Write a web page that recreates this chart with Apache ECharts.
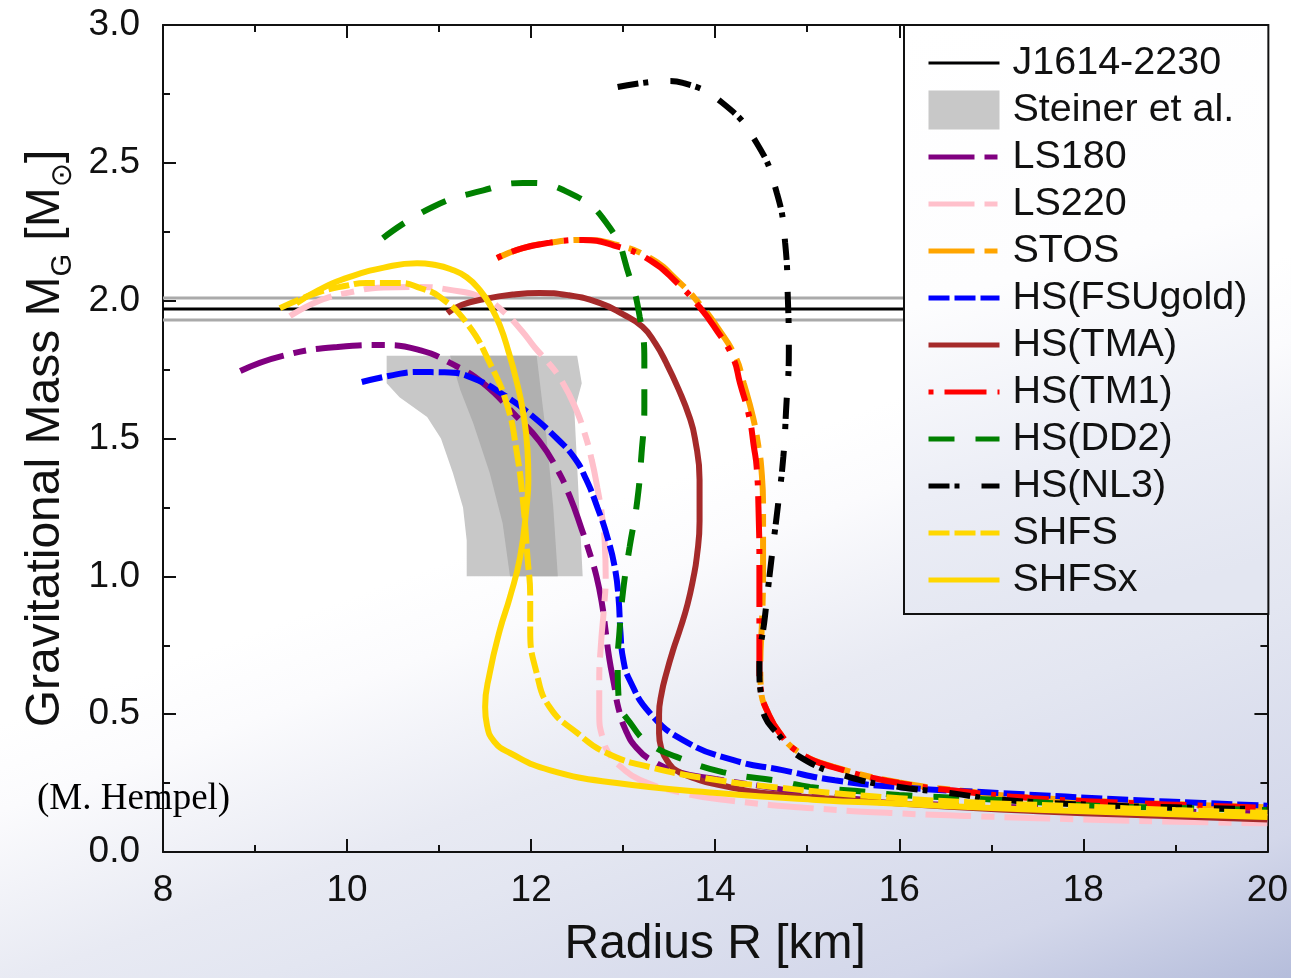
<!DOCTYPE html>
<html>
<head>
<meta charset="utf-8">
<title>Neutron star mass-radius relations</title>
<script src="https://cdn.jsdelivr.net/npm/echarts@6/dist/echarts.min.js"></script>
<style>
  html, body { margin: 0; padding: 0; }
  #chart {
    width: 1291px; height: 978px;
    background: linear-gradient(160deg, #ffffff 0%, #ffffff 50%, #fbfbfd 56%, #e8eaf3 68%, #e3e6f1 74%, #d3d7ea 90%, #b5bddb 100%);
  }
</style>
</head>
<body>
<div id="chart"></div>
<script>
// Mass-radius curves [R (km), M_G (M_sun)] for each equation of state.
const LS180 = [[8.84,1.745],[9.3,1.80],[9.9,1.832],[10.4,1.839],[10.8,1.82],[11.12,1.774],[11.48,1.70],[11.84,1.58],[12.09,1.49],[12.28,1.39],[12.42,1.29],[12.55,1.17],[12.64,1.08],[12.71,1.0],[12.77,0.9],[12.81,0.8],[12.85,0.7],[12.9,0.61],[12.95,0.52],[13.03,0.44],[13.14,0.38],[13.3,0.334],[13.6,0.29],[14.0,0.265],[14.7,0.228],[15.0,0.21],[16.0,0.18],[17.0,0.165],[18.0,0.155],[19.0,0.147],[20.0,0.14]];
const LS220 = [[9.38,1.944],[9.7,2.0],[10.03,2.03],[10.4,2.048],[10.76,2.05],[11.1,2.04],[11.48,2.01],[11.7,1.96],[11.9,1.89],[12.04,1.83],[12.2,1.77],[12.33,1.71],[12.47,1.62],[12.58,1.52],[12.66,1.42],[12.72,1.32],[12.77,1.22],[12.8,1.12],[12.81,1.0],[12.79,0.88],[12.76,0.76],[12.74,0.62],[12.74,0.5],[12.78,0.41],[12.86,0.35],[12.97,0.31],[13.18,0.262],[13.65,0.214],[14.2,0.185],[15.0,0.16],[16.0,0.14],[17.0,0.128],[18.0,0.118],[19.0,0.11],[20.0,0.104]];
const STOS = [[11.63,2.155],[11.9,2.19],[12.2,2.21],[12.56,2.22],[12.9,2.205],[13.29,2.155],[13.6,2.07],[13.85,1.98],[14.03,1.9],[14.22,1.796],[14.31,1.7],[14.41,1.578],[14.47,1.47],[14.5,1.397],[14.52,1.25],[14.52,1.03],[14.51,0.85],[14.49,0.67],[14.5,0.58],[14.56,0.515],[14.7,0.432],[14.92,0.36],[15.28,0.31],[16.0,0.252],[16.73,0.22],[17.45,0.197],[18.5,0.18],[19.3,0.17],[20.0,0.162]];
const HS_FSUGOLD = [[10.16,1.705],[10.5,1.73],[10.76,1.741],[11.06,1.74],[11.36,1.72],[11.74,1.65],[12.0,1.585],[12.28,1.50],[12.47,1.43],[12.6,1.35],[12.72,1.25],[12.83,1.14],[12.91,1.03],[12.95,0.92],[12.97,0.80],[13.0,0.70],[13.07,0.624],[13.29,0.504],[13.65,0.406],[14.19,0.334],[14.73,0.297],[15.3,0.26],[16.0,0.235],[17.09,0.214],[18.53,0.189],[19.3,0.178],[20.0,0.168]];
const HS_TMA = [[11.09,1.955],[11.25,1.985],[11.48,2.005],[11.8,2.022],[12.09,2.028],[12.4,2.02],[12.75,1.991],[13.0,1.95],[13.21,1.905],[13.35,1.845],[13.47,1.773],[13.6,1.68],[13.72,1.578],[13.78,1.5],[13.83,1.35],[13.83,1.2],[13.8,1.07],[13.76,0.99],[13.7,0.9],[13.62,0.81],[13.54,0.73],[13.47,0.649],[13.42,0.58],[13.39,0.5],[13.39,0.43],[13.42,0.37],[13.48,0.33],[13.58,0.295],[13.83,0.261],[14.02,0.245],[14.5,0.215],[15.46,0.189],[16.5,0.165],[17.5,0.148],[18.5,0.135],[20.0,0.118]];
const HS_TM1 = [[11.63,2.155],[11.9,2.19],[12.2,2.21],[12.56,2.22],[12.9,2.2],[13.29,2.147],[13.6,2.06],[13.83,1.977],[14.0,1.9],[14.19,1.796],[14.27,1.7],[14.37,1.578],[14.42,1.47],[14.45,1.397],[14.47,1.25],[14.48,1.03],[14.48,0.85],[14.48,0.67],[14.5,0.58],[14.56,0.515],[14.7,0.432],[14.92,0.359],[15.28,0.308],[16.0,0.25],[16.73,0.218],[17.45,0.195],[18.5,0.178],[19.3,0.168],[20.0,0.16]];
const HS_DD2 = [[10.39,2.227],[10.93,2.34],[11.48,2.40],[11.91,2.427],[12.42,2.39],[12.85,2.267],[13.07,2.086],[13.18,1.941],[13.23,1.785],[13.23,1.614],[13.2,1.447],[13.15,1.266],[13.07,1.106],[13.0,0.95],[12.96,0.8],[12.94,0.68],[12.95,0.56],[13.11,0.453],[13.3,0.39],[13.58,0.345],[14.08,0.29],[14.73,0.255],[15.03,0.236],[15.65,0.218],[16.0,0.207],[17.09,0.189],[18.18,0.167],[19.0,0.16],[20.0,0.152]];
const HS_NL3 = [[12.94,2.775],[13.29,2.793],[13.5,2.797],[13.65,2.79],[14.08,2.717],[14.45,2.572],[14.67,2.39],[14.76,2.209],[14.79,2.0],[14.8,1.821],[14.77,1.603],[14.74,1.433],[14.68,1.252],[14.61,1.059],[14.54,0.853],[14.48,0.671],[14.5,0.56],[14.54,0.49],[14.67,0.432],[14.92,0.345],[15.46,0.272],[16.0,0.236],[16.55,0.214],[17.09,0.19],[18.18,0.17],[19.0,0.162],[20.0,0.155]];
const SHFS = [[9.27,1.973],[9.67,2.028],[10.0,2.055],[10.21,2.064],[10.57,2.064],[10.8,2.045],[11.01,2.013],[11.3,1.919],[11.55,1.774],[11.74,1.62],[11.84,1.458],[11.91,1.277],[11.96,1.07],[11.99,0.925],[11.99,0.805],[12.06,0.649],[12.2,0.526],[12.5,0.432],[12.82,0.359],[13.29,0.308],[14.02,0.261],[14.73,0.232],[15.28,0.214],[16.0,0.195],[16.73,0.181],[18.0,0.165],[19.0,0.152],[20.0,0.142]];
const SHFSX = [[9.45,1.99],[9.7,2.04],[10.03,2.086],[10.4,2.12],[10.76,2.136],[10.95,2.13],[11.12,2.115],[11.3,2.085],[11.45,2.035],[11.56,1.98],[11.66,1.91],[11.75,1.82],[11.84,1.71],[11.91,1.6],[11.96,1.46],[11.97,1.35],[11.95,1.252],[11.88,1.07],[11.77,0.925],[11.66,0.805],[11.55,0.649],[11.5,0.526],[11.52,0.46],[11.6,0.4],[11.77,0.359],[12.2,0.297],[12.93,0.25],[14.02,0.214],[15.1,0.189],[16.0,0.175],[17.0,0.16],[18.0,0.148],[19.0,0.137],[20.0,0.127]];

// Observational constraints
const J1614_MASS = 1.97;
const J1614_ERR = 0.04;
const RADIUS_RANGE = [8, 20];
const STEINER_OUTER = [[10.43,1.80],[12.5,1.80],[12.55,1.70],[12.47,1.60],[12.5,1.4],[12.53,1.2],[12.56,1.0],[11.3,1.0],[11.3,1.13],[11.26,1.25],[11.15,1.375],[11.02,1.5],[10.87,1.578],[10.57,1.65],[10.43,1.70]];
const STEINER_INNER = [[11.12,1.80],[12.06,1.80],[12.17,1.495],[12.24,1.252],[12.29,1.0],[11.77,1.0],[11.69,1.193],[11.55,1.375],[11.37,1.556],[11.23,1.676]];

// Axis ticks
const X_TICKS = { min: 8, max: 20, step: 2 };
const Y_TICKS = { min: 0, max: 3, step: 0.5 };

const FONT = '"Liberation Sans", Arial, Helvetica, sans-serif';
const INK = '#111111';
const CURVE_WIDTH = 6;

const chart = echarts.init(document.getElementById('chart'), null, { renderer: 'canvas' });

function curve(name, data, color, dash) {
  return {
    name, type: 'line', data, symbol: 'none', smooth: 0.5,
    lineStyle: { color, width: CURVE_WIDTH, type: dash, cap: 'butt' },
    itemStyle: { color },
    emphasis: { disabled: true },
    clip: true, z: 3
  };
}

function hLine(name, mass, color, width) {
  return {
    name, type: 'line', symbol: 'none',
    data: [[RADIUS_RANGE[0], mass], [RADIUS_RANGE[1], mass]],
    lineStyle: { color, width }, itemStyle: { color },
    emphasis: { disabled: true }, z: 2
  };
}

const steinerBands = [STEINER_OUTER, STEINER_INNER];
const steinerFill = ['#c8c8c8', '#b0b0b0'];

const axisLineStyle = { color: INK, width: 2 };
function xAxisCfg(pos, labels) {
  return {
    type: 'value', position: pos, min: X_TICKS.min, max: X_TICKS.max, interval: X_TICKS.step,
    axisLine: { show: true, onZero: false, lineStyle: axisLineStyle },
    axisTick: { show: true, inside: true, length: 13, lineStyle: axisLineStyle },
    minorTick: { show: true, splitNumber: 2, length: 7, lineStyle: axisLineStyle },
    axisLabel: { show: labels, fontSize: 37, fontFamily: FONT, color: INK, margin: 20 },
    splitLine: { show: false }, minorSplitLine: { show: false }
  };
}
function yAxisCfg(pos, labels) {
  return {
    type: 'value', position: pos, min: Y_TICKS.min, max: Y_TICKS.max, interval: Y_TICKS.step,
    axisLine: { show: true, onZero: false, lineStyle: axisLineStyle },
    axisTick: { show: true, inside: true, length: 13, lineStyle: axisLineStyle },
    minorTick: { show: true, splitNumber: 2, length: 7, lineStyle: axisLineStyle },
    axisLabel: { show: labels, fontSize: 37, fontFamily: FONT, color: INK, margin: 23,
                 formatter: v => v.toFixed(1) },
    splitLine: { show: false }, minorSplitLine: { show: false }
  };
}

const xBottom = xAxisCfg('bottom', true);
Object.assign(xBottom, {
  name: 'Radius R [km]', nameLocation: 'middle', nameGap: 69,
  nameTextStyle: { fontSize: 48, fontFamily: FONT, color: INK }
});
const yLeft = yAxisCfg('left', true);
Object.assign(yLeft, {
  name: '{m|Gravitational Mass M}{s|G}{m| [M}{s|⊙}{m|]}',
  nameLocation: 'middle', nameGap: 93,
  nameTextStyle: {
    color: INK,
    rich: {
      m: { fontSize: 48, fontFamily: FONT, color: INK, lineHeight: 48 },
      s: { fontSize: 29, fontFamily: FONT + ', "DejaVu Sans"', color: INK, lineHeight: 29, padding: [34, 0, 0, 0] }
    }
  }
});

const option = {
  animation: false,
  backgroundColor: 'transparent',
  grid: { left: 163, right: 23, top: 25, bottom: 126, containLabel: false },
  xAxis: [xBottom, xAxisCfg('top', false)],
  yAxis: [yLeft, yAxisCfg('right', false)],
  legend: {
    orient: 'vertical', left: 904, top: 25,
    padding: [18, 21, 14, 22], itemGap: 7, itemWidth: 71, itemHeight: 39,
    borderColor: INK, borderWidth: 2,
    backgroundColor: {
      type: 'linear', x: 0, y: 0, x2: 0.45, y2: 1,
      colorStops: [{ offset: 0, color: '#ffffff' }, { offset: 0.45, color: '#fdfdfe' }, { offset: 0.75, color: '#eceef6' }, { offset: 1, color: '#e3e6f1' }]
    },
    selectedMode: false,
    itemStyle: { opacity: 0 },
    lineStyle: { width: 5 },
    textStyle: { fontSize: 39.5, fontFamily: FONT, color: INK, padding: [0, 0, 0, 8] },
    data: [
      { name: 'J1614-2230', lineStyle: { width: 3 } },
      { name: 'Steiner et al.', icon: 'rect', itemStyle: { color: '#c8c8c8', opacity: 1 } },
      'LS180', 'LS220', 'STOS', 'HS(FSUgold)', 'HS(TMA)', 'HS(TM1)', 'HS(DD2)', 'HS(NL3)', 'SHFS', 'SHFSx'
    ],
    z: 10
  },
  graphic: [{
    type: 'text', left: 37, top: 781, z: 100,
    style: { text: '(M. Hempel)', fill: '#000', font: '37px "Liberation Serif", "Times New Roman", serif' }
  }],
  series: [
    {
      name: 'Steiner et al.', type: 'custom', coordinateSystem: 'cartesian2d',
      data: steinerBands.map(b => b[0]),
      itemStyle: { color: '#c8c8c8' },
      renderItem: (params, api) => {
        const band = steinerBands[params.dataIndex];
        return {
          type: 'polygon',
          shape: { points: band.map(p => api.coord(p)) },
          style: { fill: steinerFill[params.dataIndex] }
        };
      },
      clip: true, z: 1, silent: true
    },
    hLine('J1614-2230 upper', J1614_MASS + J1614_ERR, '#aaaaaa', 3),
    hLine('J1614-2230 lower', J1614_MASS - J1614_ERR, '#aaaaaa', 3),
    hLine('J1614-2230', J1614_MASS, '#000000', 3),
    curve('LS180', LS180, '#800080', [46, 10, 13, 10]),
    curve('LS220', LS220, '#ffc0cb', [46, 10, 13, 10]),
    curve('STOS', STOS, '#ffa500', [46, 10, 13, 10]),
    curve('HS(FSUgold)', HS_FSUGOLD, '#0000ff', [21, 5]),
    curve('HS(TMA)', HS_TMA, '#a52a2a', 'solid'),
    curve('HS(TM1)', HS_TM1, '#ff0000', [5, 11, 42, 11]),
    curve('HS(DD2)', HS_DD2, '#008000', [26, 21]),
    curve('HS(NL3)', HS_NL3, '#000000', [21, 5, 5, 22]),
    curve('SHFS', SHFS, '#ffd700', [21, 5]),
    curve('SHFSx', SHFSX, '#ffd700', 'solid')
  ]
};

chart.setOption(option);
</script>
</body>
</html>
